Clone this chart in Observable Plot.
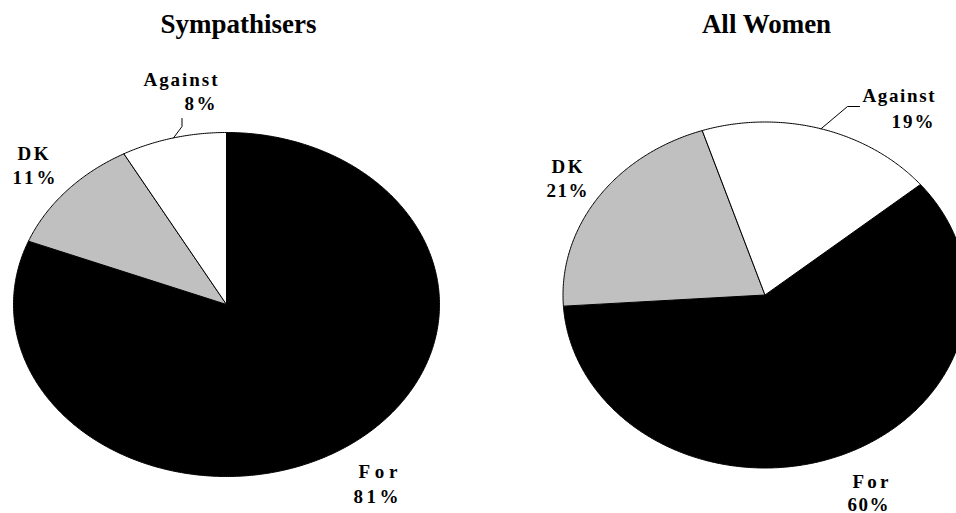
<!DOCTYPE html>
<html><head><meta charset="utf-8">
<script src="https://cdn.jsdelivr.net/npm/d3@7"></script>
<script src="https://cdn.jsdelivr.net/npm/@observablehq/plot@0.6"></script>
<style>
html,body{margin:0;padding:0;background:#fff;overflow:hidden}
#chart{position:relative;width:956px;height:513px}
#chart svg{position:absolute;left:0;top:0}
</style></head><body><div id="chart"></div>
<script>
// ---- data ----
const categories = ["For", "DK", "Against"];
const sympathisers = [81, 11, 8];
const allWomen = [60, 21, 19];
const pieTitles = ["Sympathisers", "All Women"];
const sliceColors = ["#000000", "#c0c0c0", "#ffffff"];

// ---- layout (pixels) ----
const W = 956, H = 513;
const FONT = "'Liberation Serif','Times New Roman',Times,serif";
const LABEL_SIZE = 19, TITLE_SIZE = 27;
// label lines: [left edge, baseline, text width]
const pies = [
  {title: pieTitles[0], values: sympathisers, cx: 226, cy: 304, rx: 213, ry: 172, startDeg: 0,
   titlePos: [238, 32],
   labels: {For: [[358, 477, 39], [353, 502, 45]], DK: [[17, 159, 31], [12, 183, 43]], Against: [[143, 85, 74], [184, 109, 31]]},
   leader: [[181.5, 118], [181.5, 126]]},
  {title: pieTitles[1], values: allWomen, cx: 764.5, cy: 294.5, rx: 202, ry: 173, startDeg: 50.3,
   titlePos: [766, 32],
   labels: {For: [[852, 487, 36], [847, 510, 41]], DK: [[551, 172, 31], [546, 196, 41]], Against: [[862, 101, 72], [891, 127, 42]]},
   leader: [[859, 106], [847, 106]]}
];

const chart = document.getElementById("chart");

pies.forEach(p => {
  const toU = (px, py) => ({ux: (px - p.cx) / p.rx, uy: (p.cy - py) / p.ry});
  const a0 = p.startDeg * Math.PI / 180;
  const arcs = d3.pie().sort(null).startAngle(a0).endAngle(a0 + 2 * Math.PI)(p.values);

  const pts = [];
  arcs.forEach((a, i) => {
    const cat = categories[i];
    pts.push({cat, ux: 0, uy: 0});
    const n = Math.max(2, Math.ceil((a.endAngle - a.startAngle) / (Math.PI / 360)));
    for (let k = 0; k <= n; k++) {
      const t = a.startAngle + (a.endAngle - a.startAngle) * k / n;
      pts.push({cat, ux: Math.sin(t), uy: Math.cos(t)});
    }
    pts.push({cat, ux: 0, uy: 0});
  });

  // leader line to the middle of the "Against" slice
  const ia = categories.indexOf("Against");
  const mid = (arcs[ia].startAngle + arcs[ia].endAngle) / 2;
  const leader = p.leader.map(([px, py]) => toU(px, py));
  leader.push({ux: Math.sin(mid), uy: Math.cos(mid)});

  const labelRows = [];
  const widths = new Map();
  categories.forEach((cat, i) => {
    const texts = [cat, `${p.values[i]}%`];
    p.labels[cat].forEach(([left, base, w], j) => {
      labelRows.push({...toU(left, base - 0.32 * LABEL_SIZE), text: texts[j]});
      widths.set(texts[j], w);
    });
  });
  const titleRow = [{...toU(p.titlePos[0], p.titlePos[1] - 0.32 * TITLE_SIZE), text: p.title}];

  const svg = Plot.plot({
    width: W, height: H, margin: 0,
    style: {background: "transparent"},
    x: {domain: [-1, 1], range: [p.cx - p.rx, p.cx + p.rx], axis: null},
    y: {domain: [-1, 1], range: [p.cy + p.ry, p.cy - p.ry], axis: null},
    color: {domain: categories, range: sliceColors},
    marks: [
      Plot.line(pts, {x: "ux", y: "uy", z: "cat", fill: "cat", stroke: "#000", strokeWidth: 1, strokeLinejoin: "round"}),
      Plot.line(leader, {x: "ux", y: "uy", stroke: "#000", strokeWidth: 1}),
      Plot.text(labelRows, {x: "ux", y: "uy", text: "text", fontSize: LABEL_SIZE, fontWeight: "bold", fontFamily: FONT, fill: "#000", textAnchor: "start"}),
      Plot.text(titleRow, {x: "ux", y: "uy", text: "text", fontSize: TITLE_SIZE, fontWeight: "bold", fontFamily: FONT, fill: "#000", textAnchor: "middle"})
    ]
  });
  chart.appendChild(svg);
  d3.select(svg).selectAll("text").each(function() {
    const t = this.textContent;
    if (!widths.has(t) || t.length < 2) return;
    const natural = this.getComputedTextLength();
    const ls = Math.max(0, (widths.get(t) - natural) / (t.length - 1));
    this.setAttribute("letter-spacing", ls.toFixed(2) + "px");
  });
});
</script></body></html>
